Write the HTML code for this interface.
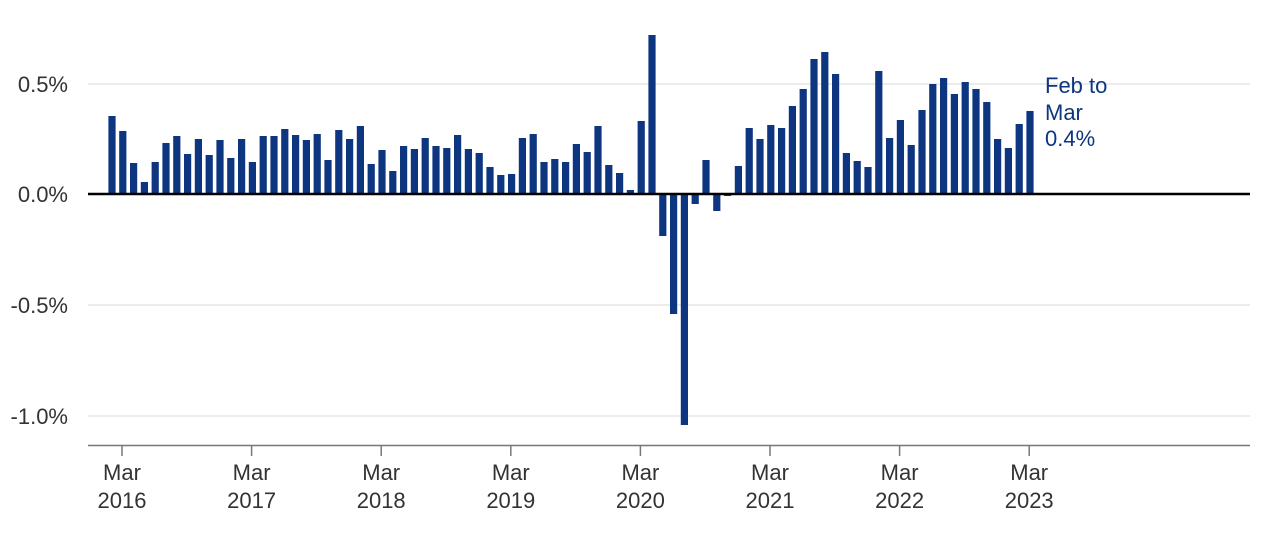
<!DOCTYPE html>
<html><head><meta charset="utf-8"><style>
html,body{margin:0;padding:0;background:#fff;}
svg{display:block;font-family:"Liberation Sans",sans-serif;}
</style></head><body>
<svg id="c" width="1280" height="534" xmlns="http://www.w3.org/2000/svg">
<line x1="88" y1="84" x2="1250" y2="84" stroke="#e6e6e6" stroke-width="1.5"/>
<line x1="88" y1="305" x2="1250" y2="305" stroke="#e6e6e6" stroke-width="1.5"/>
<line x1="88" y1="416" x2="1250" y2="416" stroke="#e6e6e6" stroke-width="1.5"/>
<g id="bars" fill="#0d3580"></g>
<line x1="88" y1="194" x2="1250" y2="194" stroke="#000" stroke-width="2.5"/>
<line x1="88" y1="445.5" x2="1250" y2="445.5" stroke="#777" stroke-width="1.5"/>
<g font-size="22" fill="#333" text-anchor="end" transform="scale(1,1)">
<text x="68" y="92">0.5%</text>
<text x="68" y="202">0.0%</text>
<text x="68" y="313">-0.5%</text>
<text x="68" y="424">-1.0%</text>
</g>
<g id="xt" font-size="22" fill="#333" text-anchor="middle"></g>
<g font-size="22" fill="#0d3580">
<text x="1045" y="93">Feb to</text>
<text x="1045" y="120">Mar</text>
<text x="1045" y="146">0.4%</text>
</g>
</svg>
<script>
var tops=[116,131,163,182,162,143,136,154,139,155,140,158,139,162,136,136,129,135,140,134,160,130,139,126,164,150,171,146,149,138,146,148,135,149,153,167,175,174,138,134,162,159,162,144,
152,126,165,173,190,121,35,236,314,425,204,160,211,196,166,128,139,125,128,106,89,59,52,74,153,161,167,71,138,120,145,110,84,78,94,82,89,102,139,148,124,111];
var ns="http://www.w3.org/2000/svg",g=document.getElementById('bars');
var n=tops.length,step=(1030-112)/(n-1);
for(var i=0;i<n;i++){var cx=112+i*step,t=tops[i],r=document.createElementNS(ns,'rect');
r.setAttribute('x',cx-3.6);r.setAttribute('width',7.2);
r.setAttribute('y',Math.min(t,194));r.setAttribute('height',Math.abs(194-t));g.appendChild(r);}
var xt=document.getElementById('xt');
for(var y=0;y<8;y++){var x=122+y*129.6;
var l=document.createElementNS(ns,'line');l.setAttribute('x1',x);l.setAttribute('x2',x);l.setAttribute('y1',445);l.setAttribute('y2',456);l.setAttribute('stroke','#777');l.setAttribute('stroke-width','1.5');xt.appendChild(l);
var a=document.createElementNS(ns,'text');a.setAttribute('x',x);a.setAttribute('y',480);a.textContent='Mar';xt.appendChild(a);
var b=document.createElementNS(ns,'text');b.setAttribute('x',x);b.setAttribute('y',508);b.textContent=String(2016+y);xt.appendChild(b);}
</script>
</body></html>
